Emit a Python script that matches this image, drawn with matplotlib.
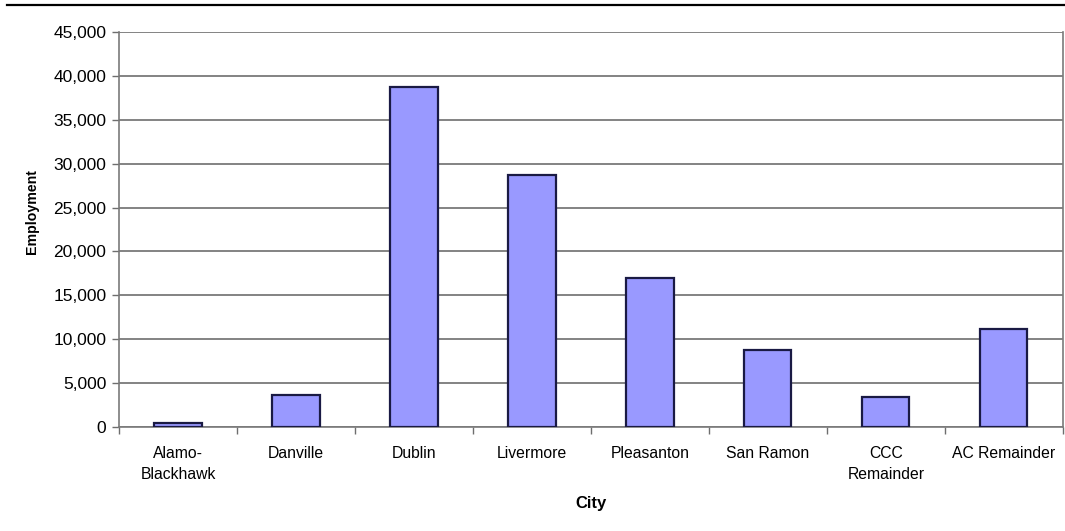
import numpy as np
import matplotlib.pyplot as plt
from matplotlib.lines import Line2D
from matplotlib.ticker import FuncFormatter

plt.rcParams["font.family"] = ["Liberation Sans", "DejaVu Sans"]

cities = ["Alamo-\nBlackhawk", "Danville", "Dublin", "Livermore", "Pleasanton",
          "San Ramon", "CCC\nRemainder", "AC Remainder"]
employment = [450, 3650, 38700, 28750, 17000, 8760, 3400, 11150]
y_ticks = list(range(0, 45001, 5000))

fig = plt.figure(figsize=(10.65, 5.31), dpi=100, facecolor="white")
ax = fig.add_axes([0.1117, 0.1959, 0.8863, 0.7438])

x = np.arange(len(cities))
ax.bar(x, employment, width=0.4, color="#9999ff", edgecolor="#1a1a44",
       linewidth=1.6, zorder=3)

ax.set_xlim(-0.5, len(cities) - 0.5)
ax.set_ylim(0, 45000)
ax.set_yticks(y_ticks)
ax.yaxis.set_major_formatter(FuncFormatter(lambda v, p: f"{int(v):,}"))
ax.grid(axis="y", color="#6e6e6e", linewidth=1.2, zorder=1)

# boundary ticks between categories, names centred under each bar
ax.set_xticks(np.arange(len(cities) + 1) - 0.5)
ax.set_xticklabels([])
ax.set_xticks(x, minor=True)
ax.set_xticklabels(cities, minor=True, fontsize=11.3, linespacing=1.45)
ax.tick_params(axis="x", which="major", direction="out", length=5,
               color="#6e6e6e", width=1)
ax.tick_params(axis="x", which="minor", length=0, pad=14)
ax.tick_params(axis="y", direction="out", length=5, color="#6e6e6e",
               width=1, labelsize=12.5, pad=4)

for side in ["left", "right", "bottom"]:
    ax.spines[side].set_color("#7a7a7a")
    ax.spines[side].set_linewidth(1.2)
ax.spines["top"].set_visible(False)

ax.set_xlabel("City", fontsize=12, fontweight="bold")
ax.set_ylabel("Employment", fontsize=10.2, fontweight="bold")
ax.yaxis.set_label_coords(-0.085, 0.545)
ax.xaxis.set_label_coords(0.5, -0.175)

# rule across the top of the page
fig.add_artist(Line2D([7 / 1065, 1.0], [1 - 4.5 / 531, 1 - 4.5 / 531],
                      color="black", linewidth=1.6, transform=fig.transFigure))

plt.savefig("out.png", dpi=100, facecolor="white")
